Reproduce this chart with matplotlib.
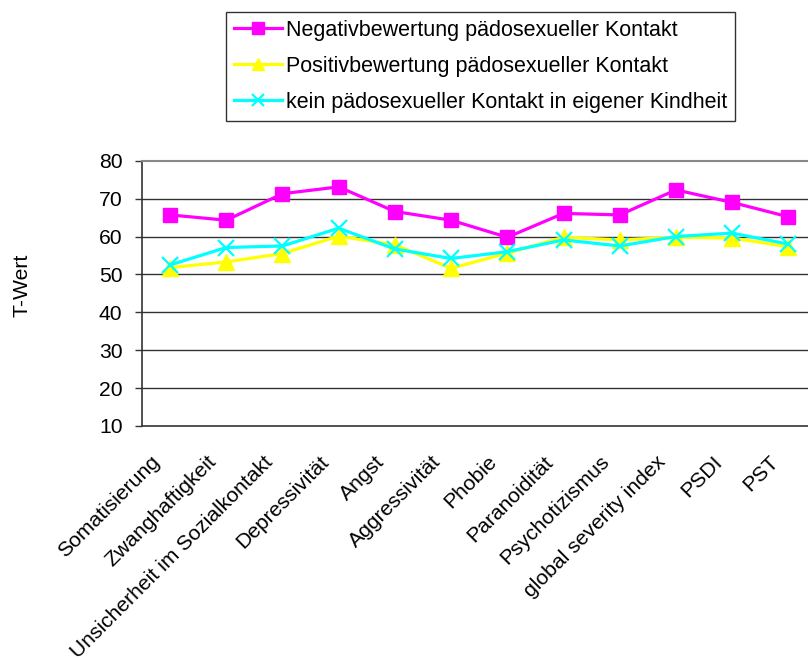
import matplotlib
matplotlib.use("Agg")
import matplotlib.pyplot as plt
import matplotlib.transforms as mtransforms

categories = ["Somatisierung", "Zwanghaftigkeit", "Unsicherheit im Sozialkontakt",
              "Depressivität", "Angst", "Aggressivität", "Phobie", "Paranoidität",
              "Psychotizismus", "global severity index", "PSDI", "PST"]
negativ = [65.7, 64.3, 71.3, 73.1, 66.6, 64.3, 59.8, 66.1, 65.7, 72.3, 69.0, 65.2]
positiv = [51.8, 53.3, 55.5, 60.1, 57.8, 51.6, 55.6, 59.8, 59.1, 59.8, 59.6, 57.3]
kein = [52.5, 57.1, 57.5, 62.2, 56.7, 54.2, 56.0, 59.1, 57.5, 60.0, 60.9, 58.0]
series_labels = ["Negativbewertung pädosexueller Kontakt",
                 "Positivbewertung pädosexueller Kontakt",
                 "kein pädosexueller Kontakt in eigener Kindheit"]
yticks = [10, 20, 30, 40, 50, 60, 70, 80]

plt.rcParams['font.family'] = ['Liberation Sans', 'DejaVu Sans']
FS = 15.2

fig = plt.figure(figsize=(8.08, 6.59), dpi=100)
ax = fig.add_axes([0.1757, 0.3536, 0.8243, 0.4025])

x = list(range(len(categories)))
l1, = ax.plot(x, negativ, color='#FF00FF', lw=2.3, marker='s', ms=10, zorder=3)
l2, = ax.plot(x, positiv, color='#FFFF00', lw=2.3, marker='^', ms=11, zorder=4)
l3, = ax.plot(x, kein, color='#00FFFF', lw=2.3, marker='x', ms=11, mew=1.6, zorder=5)

ax.set_ylim(10, 80)
ax.set_xlim(-0.5, 11.35)
ax.set_yticks(yticks)
ax.set_yticklabels([str(v) for v in yticks], fontsize=FS)
for v in yticks[1:-1]:
    ax.axhline(v, color='#333333', lw=1.0, zorder=1)
ax.spines['top'].set_color('#888888')
ax.spines['top'].set_linewidth(1.5)
ax.spines['right'].set_visible(False)
ax.spines['left'].set_color('#333333')
ax.spines['left'].set_linewidth(1.2)
ax.spines['bottom'].set_color('#333333')
ax.spines['bottom'].set_linewidth(1.2)
ax.tick_params(axis='y', length=5, width=1, color='#333333', pad=9)
ax.set_xticks([])

trans = mtransforms.offset_copy(ax.get_xaxis_transform(), fig=fig, x=-13, y=-33, units='dots')
for i, c in enumerate(categories):
    ax.text(i, 0, c, transform=trans, rotation=45, ha='right', va='center',
            rotation_mode='anchor', fontsize=FS, clip_on=False)

fig.text(0.027, 0.567, "T-Wert", rotation=90, ha='center', va='center', fontsize=FS)

leg = fig.legend([l1, l2, l3], series_labels, loc='upper left',
                 bbox_to_anchor=(0.2797, 0.982), borderaxespad=0,
                 fontsize=15.5, frameon=True, fancybox=False, handlelength=2.25,
                 labelspacing=0.7, handletextpad=0.2, borderpad=0.36)
leg.get_frame().set_edgecolor('black')
leg.get_frame().set_linewidth(1.0)
for h in leg.legend_handles:
    h.set_markersize(8)

fig.savefig("out.png", dpi=100)
